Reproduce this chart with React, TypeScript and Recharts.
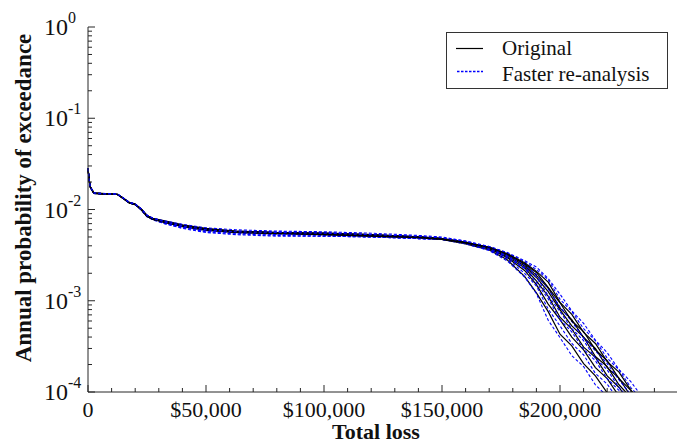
import { LineChart, Line, XAxis, YAxis, Legend } from 'recharts'

const SERIF = '"Liberation Serif", "Times New Roman", serif'
const AXIS = '#262626'

// loss grid shared by every run
const LOSS = [0, 500, 1000, 2500, 7500, 12500, 15000, 17500, 20000, 22500, 25000, 27500, 32500, 40000, 50000, 62500, 80000, 100000, 120000, 140000, 150000, 160000, 170000, 177500, 185000, 190000, 195000, 200000, 205000, 210000, 215000, 220000, 225000, 230000, 235000]

// Original analysis runs (black)
const original1 = [0.0282, 0.0212, 0.0176, 0.0151, 0.0148, 0.0146, 0.0133, 0.0119, 0.0114, 0.0101, 0.0086, 0.0080, 0.0074, 0.0067, 0.0061, 0.0058, 0.0056, 0.0054, 0.0051, 0.0049, 0.0047, 0.0042, 0.00360, 0.00283, 0.00185, 0.00122, 0.000760, 0.000430, 0.000320, 0.000205, 0.000150, 0.0000980, 0.0000698, null, null]
const original2 = [0.0279, 0.0209, 0.0174, 0.0150, 0.0148, 0.0147, 0.0132, 0.0118, 0.0113, 0.0100, 0.0085, 0.0079, 0.0072, 0.0065, 0.0059, 0.0056, 0.0054, 0.0053, 0.0051, 0.0049, 0.0047, 0.0043, 0.00370, 0.00299, 0.00215, 0.00150, 0.000920, 0.000620, 0.000400, 0.000290, 0.000185, 0.000140, 0.0000900, null, null]
const original3 = [0.0284, 0.0213, 0.0177, 0.0152, 0.0149, 0.0147, 0.0133, 0.0120, 0.0115, 0.0102, 0.0086, 0.0079, 0.0073, 0.0066, 0.0060, 0.0057, 0.0055, 0.0054, 0.0052, 0.0050, 0.0048, 0.0043, 0.00375, 0.00305, 0.00230, 0.00165, 0.00112, 0.000660, 0.000490, 0.000310, 0.000240, 0.000150, 0.000112, 0.0000752, null]
const original4 = [0.0280, 0.0210, 0.0175, 0.0151, 0.0148, 0.0146, 0.0132, 0.0119, 0.0114, 0.0101, 0.0085, 0.0078, 0.0074, 0.0067, 0.0061, 0.0057, 0.0056, 0.0055, 0.0053, 0.0050, 0.0048, 0.0043, 0.00380, 0.00316, 0.00240, 0.00180, 0.00126, 0.000794, 0.000530, 0.000400, 0.000245, 0.000190, 0.000120, 0.0000871, null]
const original5 = [0.0281, 0.0211, 0.0176, 0.0150, 0.0147, 0.0146, 0.0131, 0.0118, 0.0113, 0.0100, 0.0085, 0.0079, 0.0073, 0.0066, 0.0060, 0.0056, 0.0055, 0.0054, 0.0052, 0.0050, 0.0048, 0.0044, 0.00383, 0.00321, 0.00250, 0.00190, 0.00138, 0.000830, 0.000620, 0.000395, 0.000300, 0.000185, 0.000142, 0.0000900, 0.0000649]
const original6 = [0.0283, 0.0212, 0.0176, 0.0151, 0.0148, 0.0147, 0.0133, 0.0119, 0.0114, 0.0101, 0.0086, 0.0080, 0.0075, 0.0068, 0.0062, 0.0058, 0.0056, 0.0055, 0.0053, 0.0050, 0.0048, 0.0044, 0.00385, 0.00325, 0.00254, 0.00204, 0.00140, 0.000950, 0.000600, 0.000460, 0.000290, 0.000220, 0.000140, 0.000104, 0.0000698]
const original7 = [0.0279, 0.0210, 0.0175, 0.0150, 0.0147, 0.0146, 0.0132, 0.0118, 0.0113, 0.0100, 0.0084, 0.0078, 0.0072, 0.0066, 0.0060, 0.0057, 0.0055, 0.0053, 0.0051, 0.0049, 0.0047, 0.0043, 0.00388, 0.00330, 0.00261, 0.00210, 0.00160, 0.000960, 0.000710, 0.000450, 0.000340, 0.000215, 0.000165, 0.000105, 0.0000752]

// Faster re-analysis runs (blue dashed)
const faster1 = [0.0281, 0.0211, 0.0175, 0.0150, 0.0147, 0.0146, 0.0132, 0.0118, 0.0113, 0.0099, 0.0083, 0.0077, 0.0070, 0.0063, 0.0057, 0.0054, 0.0052, 0.0051, 0.0050, 0.0048, 0.0047, 0.0042, 0.00355, 0.00275, 0.00182, 0.00120, 0.000610, 0.000395, 0.000250, 0.000190, 0.000120, 0.0000900, null, null, null]
const faster2 = [0.0283, 0.0213, 0.0177, 0.0152, 0.0149, 0.0147, 0.0133, 0.0120, 0.0115, 0.0101, 0.0086, 0.0078, 0.0072, 0.0065, 0.0059, 0.0056, 0.0054, 0.0053, 0.0051, 0.0049, 0.0048, 0.0043, 0.00365, 0.00291, 0.00200, 0.00145, 0.000810, 0.000530, 0.000340, 0.000255, 0.000160, 0.000122, 0.0000800, null, null]
const faster3 = [0.0280, 0.0210, 0.0175, 0.0151, 0.0148, 0.0147, 0.0132, 0.0119, 0.0114, 0.0101, 0.0085, 0.0079, 0.0071, 0.0064, 0.0058, 0.0055, 0.0053, 0.0052, 0.0050, 0.0048, 0.0047, 0.0043, 0.00372, 0.00303, 0.00225, 0.00158, 0.00105, 0.000620, 0.000455, 0.000295, 0.000220, 0.000140, 0.000104, 0.0000698, null]
const faster4 = [0.0282, 0.0212, 0.0176, 0.0151, 0.0148, 0.0146, 0.0133, 0.0119, 0.0114, 0.0100, 0.0085, 0.0078, 0.0074, 0.0067, 0.0061, 0.0058, 0.0057, 0.0056, 0.0053, 0.0050, 0.0048, 0.0044, 0.00378, 0.00312, 0.00230, 0.00182, 0.00114, 0.000760, 0.000495, 0.000365, 0.000235, 0.000175, 0.000112, 0.0000809, null]
const faster5 = [0.0279, 0.0209, 0.0174, 0.0150, 0.0147, 0.0146, 0.0131, 0.0118, 0.0113, 0.0100, 0.0084, 0.0078, 0.0070, 0.0062, 0.0056, 0.0053, 0.0051, 0.0051, 0.0050, 0.0048, 0.0047, 0.0043, 0.00383, 0.00321, 0.00247, 0.00195, 0.00135, 0.000855, 0.000592, 0.000390, 0.000283, 0.000205, 0.000136, 0.0000938, 0.0000649]
const faster6 = [0.0284, 0.0213, 0.0177, 0.0152, 0.0149, 0.0148, 0.0134, 0.0120, 0.0115, 0.0102, 0.0087, 0.0080, 0.0075, 0.0069, 0.0063, 0.0060, 0.0058, 0.0057, 0.0055, 0.0052, 0.0050, 0.0045, 0.00391, 0.00334, 0.00268, 0.00220, 0.00170, 0.00104, 0.000760, 0.000495, 0.000365, 0.000235, 0.000175, 0.000112, 0.0000809]
const faster7 = [0.0281, 0.0211, 0.0176, 0.0151, 0.0148, 0.0147, 0.0133, 0.0119, 0.0114, 0.0101, 0.0086, 0.0080, 0.0073, 0.0066, 0.0060, 0.0057, 0.0056, 0.0055, 0.0053, 0.0051, 0.0049, 0.0045, 0.00394, 0.00339, 0.00275, 0.00234, 0.00175, 0.00118, 0.000775, 0.000565, 0.000370, 0.000270, 0.000176, 0.000130, 0.0000871]

const ORIGINAL = [original1, original2, original3, original4, original5, original6, original7]
const FASTER = [faster1, faster2, faster3, faster4, faster5, faster6, faster7]

// axis ticks
const X_MAJOR = [0, 50000, 100000, 150000, 200000, 250000]
const X_LABELS = ['0', '$50,000', '$100,000', '$150,000', '$200,000', '']
const X_MINOR_STEP = 10000
const DECADES = [1e-4, 1e-3, 1e-2, 1e-1, 1]
const DECADE_LABELS = ['-4', '-3', '-2', '-1', '0']
const MULTIPLES = [2, 3, 4, 5, 6, 7, 8, 9]

const xTicks: number[] = []
for (let v = 0; v <= 250000; v += X_MINOR_STEP) xTicks.push(v)

const yTicks: number[] = []
DECADES.forEach((d, i) => {
  yTicks.push(d)
  if (i < DECADES.length - 1) MULTIPLES.forEach((m) => yTicks.push(m * d))
})

const data = LOSS.map((loss, i) => {
  const row: Record<string, number | null> = { loss }
  ORIGINAL.forEach((run, k) => { row['o' + k] = run[i] })
  FASTER.forEach((run, k) => { row['f' + k] = run[i] })
  return row
})

const decadeIndex = (v: number) => DECADES.findIndex((d) => Math.abs(d - v) / d < 1e-6)

function BottomTick(props: any) {
  const { x, y, payload } = props
  const idx = X_MAJOR.indexOf(payload.value)
  const major = idx >= 0
  return (
    <g>
      <line x1={x} y1={y} x2={x} y2={y - (major ? 7 : 4)} stroke={AXIS} />
      {major && X_LABELS[idx] && (
        <text x={x} y={y + 25} textAnchor="middle" fontSize={22} fontFamily={SERIF} fill="#111">
          {X_LABELS[idx]}
        </text>
      )}
    </g>
  )
}

function TopTick(props: any) {
  const { x, y, payload } = props
  const major = X_MAJOR.indexOf(payload.value) >= 0
  return <line x1={x} y1={y} x2={x} y2={y + (major ? 7 : 4)} stroke={AXIS} />
}

function LeftTick(props: any) {
  const { x, y, payload } = props
  const idx = decadeIndex(payload.value)
  const major = idx >= 0
  return (
    <g>
      <line x1={x} y1={y} x2={x + (major ? 7 : 4)} y2={y} stroke={AXIS} />
      {major && (
        <text x={44} y={y + 8} fontSize={24} fontFamily={SERIF} fill="#111">
          10
          <tspan dy={-12} fontSize={16}>{DECADE_LABELS[idx]}</tspan>
        </text>
      )}
    </g>
  )
}

function RightTick(props: any) {
  const { x, y, payload } = props
  const major = decadeIndex(payload.value) >= 0
  return <line x1={x} y1={y} x2={x - (major ? 7 : 4)} y2={y} stroke={AXIS} />
}

function LegendBox() {
  return (
    <svg width={222} height={57} style={{ display: 'block' }}>
      <rect x={0.5} y={0.5} width={221} height={56} fill="#fff" stroke="#333" />
      <line x1={10} y1={16.5} x2={37} y2={16.5} stroke="#000" strokeWidth={1.2} />
      <text x={56} y={23} fontSize={21} fontFamily={SERIF} fill="#111">Original</text>
      <line x1={11} y1={39.5} x2={37} y2={39.5} stroke="#0000ff" strokeWidth={1.3} strokeDasharray="2.5 1.5" />
      <text x={56} y={49} fontSize={21} fontFamily={SERIF} fill="#111">Faster re-analysis</text>
    </svg>
  )
}

function YTitle() {
  return (
    <text x={23} y={198} transform="rotate(-90, 23, 198)" textAnchor="middle" dominantBaseline="central"
      fontSize={23} fontWeight="bold" fontFamily={SERIF} fill="#111">
      Annual probability of exceedance
    </text>
  )
}

function XTitle() {
  return (
    <text x={376} y={439} textAnchor="middle" fontSize={22} fontWeight="bold" fontFamily={SERIF} fill="#111">
      Total loss
    </text>
  )
}

export default function App() {
  const runs: { key: string; faster: boolean }[] = []
  ORIGINAL.forEach((_, k) => {
    runs.push({ key: 'o' + k, faster: false })
    runs.push({ key: 'f' + k, faster: true })
  })

  return (
    <div style={{ position: 'absolute', left: 0, top: 0, width: 677, height: 446, overflow: 'hidden', background: '#fff' }}>
      <LineChart width={690} height={446} data={data} margin={{ top: 27, right: 12, bottom: 0, left: 0 }}>
        <XAxis xAxisId="bottom" dataKey="loss" type="number" domain={[0, 250000]} ticks={xTicks} interval={0}
          tickSize={0} tickMargin={0} tickLine={false} tick={<BottomTick />} height={54}
          axisLine={{ stroke: AXIS }} label={<XTitle />} />
        <XAxis xAxisId="top" orientation="top" dataKey="loss" type="number" domain={[0, 250000]} ticks={xTicks}
          interval={0} tickSize={0} tickMargin={0} tickLine={false} tick={<TopTick />} height={0}
          axisLine={{ stroke: AXIS }} />
        <YAxis yAxisId="left" type="number" scale="log" domain={[1e-4, 1]} allowDataOverflow ticks={yTicks}
          interval={0} tickSize={0} tickMargin={0} tickLine={false} tick={<LeftTick />} width={88}
          axisLine={{ stroke: AXIS }} label={<YTitle />} />
        <YAxis yAxisId="right" orientation="right" type="number" scale="log" domain={[1e-4, 1]} allowDataOverflow
          ticks={yTicks} interval={0} tickSize={0} tickMargin={0} tickLine={false} tick={<RightTick />} width={0}
          axisLine={{ stroke: AXIS }} />
        <Legend layout="vertical" align="center" verticalAlign="middle" content={<LegendBox />}
          wrapperStyle={{ position: 'absolute', left: 446, top: 32, width: 222, height: 57 }} />
        {runs.map((r) => (
          <Line key={r.key} xAxisId="bottom" yAxisId="left" dataKey={r.key} type="linear"
            stroke={r.faster ? '#0000ff' : '#000000'} strokeWidth={r.faster ? 1.1 : 1.2}
            strokeDasharray={r.faster ? '3 2' : undefined} dot={false} activeDot={false}
            connectNulls={false} isAnimationActive={false} legendType="none" />
        ))}
      </LineChart>
    </div>
  )
}
